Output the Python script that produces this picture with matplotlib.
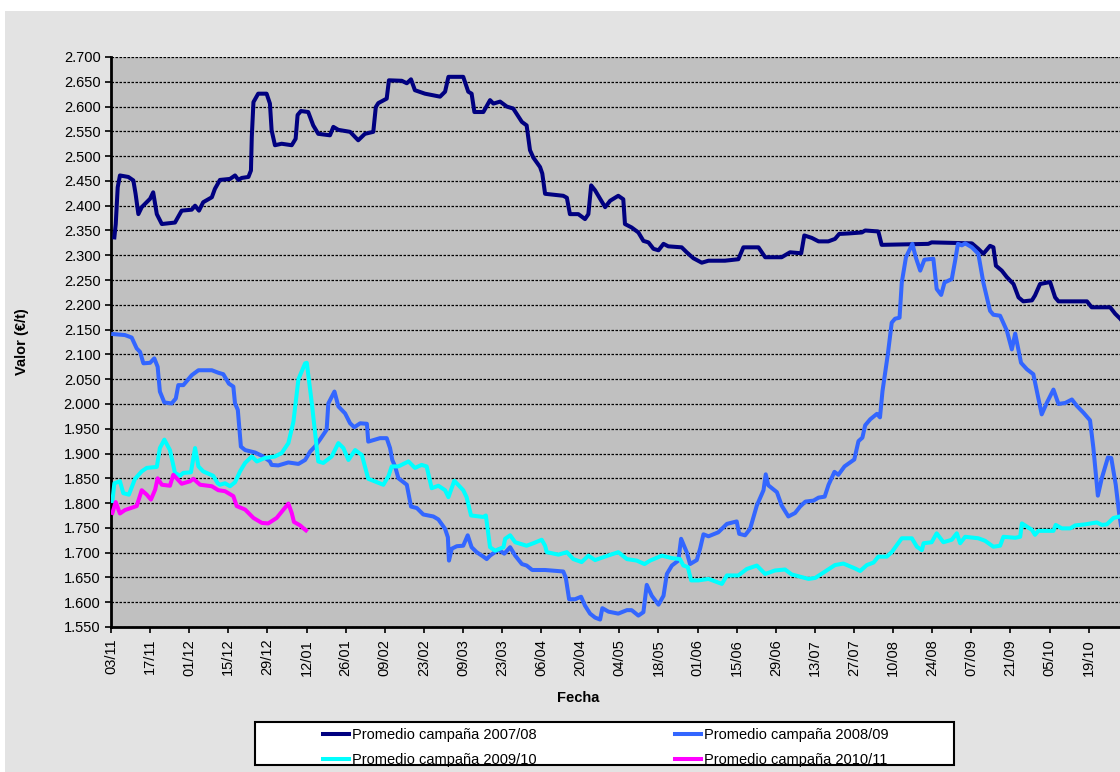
import matplotlib
matplotlib.use("Agg")
import matplotlib.pyplot as plt
from matplotlib.patches import Rectangle
from matplotlib.ticker import FuncFormatter, MultipleLocator

plt.rcParams['font.family'] = ['Liberation Sans', 'DejaVu Sans']

# x = days since 03/11 (start of campaign), y = €/t
tick_labels = ["03/11", "17/11", "01/12", "15/12", "29/12", "12/01", "26/01", "09/02",
               "23/02", "09/03", "23/03", "06/04", "20/04", "04/05", "18/05", "01/06",
               "15/06", "29/06", "13/07", "27/07", "10/08", "24/08", "07/09", "21/09",
               "05/10", "19/10"]

series_names = ["Promedio campaña 2007/08", "Promedio campaña 2008/09",
                "Promedio campaña 2009/10", "Promedio campaña 2010/11"]

days_0708 = [1.2, 1.7, 2.4, 3.2, 6.2, 8.0, 8.8, 9.8, 11.0, 14.0, 15.1, 16.4, 18.2, 22.9, 25.3,
             28.9, 30.1, 31.5, 33.0, 36.1, 37.2, 39.0, 42.6, 44.4, 45.6, 46.8, 49.2, 50.1,
             50.4, 51.0, 52.7, 55.7, 56.9, 57.5, 58.7, 61.1, 64.7, 66.1, 66.8, 68.0, 70.6,
             72.4, 74.2, 78.4, 79.6, 81.4, 85.6, 88.5, 90.9, 93.9, 94.8, 95.7, 98.7, 99.5,
             104.1, 105.9, 107.4, 108.8, 112.4, 117.8, 119.6, 120.8, 126.1, 127.9, 129.1,
             130.1, 133.3, 135.7, 136.9, 139.3, 141.7, 144.0, 147.1, 148.8, 150.0, 151.2,
             153.6, 154.4, 155.4, 161.9, 163.2, 164.3, 167.3, 169.7, 170.9, 171.9, 173.3,
             176.9, 178.7, 181.6, 183.4, 184.0, 186.4, 188.8, 190.6, 192.4, 194.2, 196.0,
             197.8, 199.5, 204.3, 206.1, 208.5, 211.5, 213.9, 219.8, 224.6, 226.4, 231.8,
             234.2, 240.1, 243.1, 247.1, 248.2, 250.9, 253.3, 256.8, 259.2, 260.7, 264.0,
             268.8, 270.0, 274.7, 275.9, 292.6, 293.8, 308.2, 310.5, 312.3, 314.7, 315.9,
             316.8, 318.9, 320.7, 323.1, 324.9, 326.6, 329.7, 330.8, 332.6, 336.2, 338.0,
             339.2, 349.4, 351.1, 357.7, 359.5, 361.3, 363.0]
vals_0708 = [2336, 2363, 2437, 2461, 2458, 2451, 2424, 2383, 2397, 2414, 2427, 2383, 2363, 2366,
             2390, 2392, 2400, 2390, 2407, 2417, 2434, 2452, 2454, 2461, 2452, 2456, 2458,
             2471, 2539, 2609, 2626, 2626, 2606, 2552, 2522, 2525, 2522, 2535, 2583, 2591,
             2589, 2562, 2545, 2542, 2559, 2553, 2549, 2532, 2545, 2549, 2599, 2607, 2616,
             2653, 2652, 2647, 2655, 2633, 2626, 2620, 2630, 2660, 2660, 2630, 2626, 2589,
             2589, 2613, 2606, 2610, 2600, 2596, 2569, 2562, 2512, 2497, 2478, 2465, 2424,
             2420, 2416, 2383, 2383, 2373, 2383, 2441, 2431, 2397, 2410, 2420, 2413, 2363,
             2356, 2346, 2329, 2326, 2313, 2310, 2323, 2318, 2316, 2306, 2294, 2285, 2289,
             2289, 2292, 2316, 2316, 2296, 2296, 2306, 2304, 2340, 2335, 2328, 2328, 2333,
             2343, 2344, 2346, 2350, 2348, 2321, 2323, 2326, 2324, 2313, 2303, 2319, 2316,
             2279, 2269, 2256, 2242, 2215, 2207, 2209, 2219, 2242, 2246, 2215, 2207, 2207,
             2195, 2195, 2182, 2172, 2160]

days_0809 = [0.8, 5.0, 7.4, 9.2, 10.4, 11.6, 14.0, 15.5, 16.7, 17.5, 19.1, 21.7, 23.2, 24.1,
             25.9, 28.9, 31.3, 36.1, 38.4, 40.2, 42.2, 43.8, 44.4, 45.4, 46.5, 48.0, 51.6,
             54.5, 56.9, 57.5, 59.9, 63.5, 67.1, 69.5, 71.3, 73.0, 74.8, 77.2, 77.8, 80.0,
             81.4, 83.8, 85.6, 87.1, 89.2, 91.6, 92.1, 96.3, 98.7, 99.9, 100.7, 101.7, 102.9,
             105.9, 107.4, 109.5, 111.8, 115.4, 117.2, 119.6, 120.6, 121.0, 122.0, 123.8,
             126.1, 127.7, 129.1, 130.9, 133.3, 134.5, 135.7, 138.7, 140.8, 142.9, 144.7,
             147.1, 148.8, 150.8, 155.4, 161.9, 162.8, 164.0, 166.1, 168.3, 169.7, 171.5,
             173.3, 175.1, 175.9, 178.1, 181.6, 184.7, 186.4, 188.8, 190.6, 191.8, 193.6,
             196.0, 197.8, 199.0, 200.8, 203.1, 204.1, 206.1, 207.3, 209.7, 210.9, 212.1,
             213.9, 217.4, 220.5, 224.0, 224.9, 227.0, 228.8, 231.2, 233.6, 234.4, 235.3,
             238.4, 240.1, 242.5, 244.9, 246.7, 248.6, 251.5, 253.3, 255.5, 256.9, 259.0,
             260.4, 262.6, 266.1, 267.6, 269.0, 270.0, 271.8, 274.2, 275.3, 276.2, 278.1,
             279.5, 280.7, 282.3, 283.1, 284.6, 286.9, 288.1, 289.7, 291.2, 294.4, 295.6,
             297.2, 298.4, 301.0, 302.2, 303.2, 304.6, 305.8, 308.2, 310.5, 312.3, 314.7,
             315.9, 318.3, 320.7, 322.5, 323.7, 325.8, 327.9, 330.2, 333.2, 335.0, 337.4,
             339.2, 341.6, 344.0, 345.8, 348.2, 350.5, 351.7, 353.3, 354.7, 356.9, 358.1,
             359.7, 360.9, 362.0]
vals_0809 = [2141, 2139, 2134, 2112, 2105, 2082, 2083, 2092, 2075, 2025, 2003, 2001, 2011, 2038,
             2038, 2058, 2068, 2068, 2063, 2060, 2041, 2035, 2001, 1988, 1914, 1907, 1902,
             1894, 1884, 1877, 1876, 1882, 1879, 1887, 1904, 1914, 1928, 1948, 2001, 2025,
             1995, 1981, 1961, 1953, 1961, 1960, 1924, 1931, 1931, 1911, 1887, 1874, 1850,
             1837, 1793, 1790, 1777, 1773, 1767, 1748, 1731, 1684, 1708, 1713, 1714, 1735,
             1711, 1701, 1692, 1687, 1694, 1706, 1698, 1711, 1694, 1677, 1674, 1665, 1665,
             1662, 1650, 1606, 1606, 1611, 1593, 1577, 1569, 1565, 1588, 1581, 1577, 1584,
             1584, 1573, 1580, 1635, 1613, 1595, 1613, 1657, 1674, 1684, 1728, 1701, 1677,
             1685, 1708, 1737, 1733, 1741, 1758, 1763, 1738, 1735, 1748, 1795, 1826, 1858,
             1836, 1822, 1795, 1773, 1780, 1793, 1803, 1805, 1811, 1813, 1837, 1863, 1857,
             1874, 1888, 1925, 1932, 1957, 1969, 1980, 1973, 2026, 2100, 2164, 2172, 2174,
             2245, 2296, 2323, 2296, 2269, 2291, 2293, 2232, 2220, 2245, 2252, 2289, 2323,
             2320, 2324, 2316, 2303, 2245, 2188, 2180, 2178, 2148, 2110, 2142, 2083, 2070,
             2060, 1979, 2002, 2029, 2000, 2002, 2009, 1996, 1982, 1967, 1911, 1815, 1850,
             1892, 1891, 1837, 1780, 1740]

days_0910 = [0.5, 1.2, 3.2, 4.4, 6.4, 8.6, 11.0, 12.8, 16.4, 17.5, 19.1, 21.1, 22.9, 24.7,
             25.9, 28.6, 30.1, 31.3, 33.0, 36.6, 38.2, 39.0, 40.8, 42.6, 44.4, 46.2, 48.0,
             50.4, 52.2, 55.1, 58.7, 61.1, 63.5, 65.3, 67.1, 69.5, 70.1, 71.9, 74.2, 76.0,
             79.0, 81.4, 83.2, 85.0, 87.4, 89.8, 92.1, 97.5, 99.3, 100.5, 102.9, 106.5,
             108.8, 111.2, 113.0, 114.8, 117.2, 119.6, 120.8, 122.9, 126.1, 127.3, 128.9,
             133.3, 134.2, 135.7, 137.5, 140.5, 141.1, 142.9, 144.7, 148.8, 151.2, 154.2,
             155.4, 156.0, 160.2, 163.2, 165.5, 168.5, 170.9, 173.3, 176.3, 181.6, 184.7,
             188.2, 191.0, 193.0, 197.2, 200.8, 203.7, 204.9, 206.5, 207.7, 210.3, 213.9,
             218.7, 220.5, 224.6, 227.6, 231.2, 234.2, 237.7, 241.3, 243.7, 249.7, 252.1,
             259.2, 262.2, 266.4, 268.2, 270.6, 273.0, 274.7, 277.7, 279.5, 283.1, 286.7,
             288.5, 290.3, 290.9, 293.8, 295.6, 298.0, 301.0, 302.8, 304.0, 305.8, 310.5,
             312.9, 315.9, 318.3, 319.5, 323.7, 325.5, 326.1, 329.7, 330.8, 332.0, 337.4,
             338.2, 340.4, 343.4, 345.2, 348.7, 352.9, 354.7, 356.5, 358.9, 361.3, 363.0]
vals_0910 = [1804, 1840, 1844, 1820, 1817, 1849, 1864, 1871, 1873, 1911, 1928, 1907, 1861, 1855,
             1861, 1862, 1911, 1874, 1864, 1855, 1840, 1837, 1840, 1834, 1842, 1864, 1881,
             1894, 1884, 1891, 1894, 1901, 1921, 1964, 2050, 2082, 2083, 2001, 1884, 1881,
             1894, 1921, 1911, 1887, 1907, 1897, 1849, 1837, 1854, 1874, 1874, 1884, 1871,
             1877, 1874, 1830, 1835, 1826, 1812, 1845, 1826, 1812, 1775, 1772, 1775, 1711,
             1704, 1711, 1728, 1735, 1721, 1714, 1719, 1726, 1714, 1701, 1696, 1701, 1687,
             1681, 1694, 1685, 1691, 1701, 1687, 1684, 1677, 1684, 1694, 1689, 1687, 1674,
             1671, 1644, 1644, 1647, 1637, 1654, 1654, 1667, 1674, 1657, 1664, 1666, 1656,
             1647, 1649, 1675, 1678, 1668, 1663, 1675, 1680, 1692, 1692, 1701, 1729, 1729,
             1712, 1705, 1719, 1721, 1739, 1721, 1726, 1739, 1719, 1732, 1729, 1724, 1712,
             1714, 1732, 1730, 1732, 1759, 1746, 1736, 1744, 1744, 1756, 1749, 1749, 1755,
             1757, 1761, 1756, 1757, 1770, 1773, 1776]

days_1011 = [0.5, 1.7, 3.2, 5.0, 9.2, 11.0, 12.8, 14.3, 15.8, 16.7, 18.2, 21.1, 22.3, 23.5,
             25.3, 28.3, 29.5, 31.9, 36.1, 38.4, 40.8, 43.8, 45.0, 48.0, 51.0, 54.0, 56.3,
             59.3, 63.5, 64.7, 65.5, 67.7, 68.7, 69.8]
vals_1011 = [1780, 1802, 1779, 1786, 1794, 1826, 1817, 1807, 1827, 1850, 1837, 1835, 1857, 1850,
             1839, 1844, 1849, 1837, 1834, 1826, 1824, 1814, 1794, 1787, 1770, 1760, 1759,
             1770, 1799, 1780, 1762, 1755, 1750, 1745]

colors = ["#000080", "#3366FF", "#00FFFF", "#FF00FF"]

W, H = 1120, 772
fig = plt.figure(figsize=(W / 100, H / 100), dpi=100)
fig.patch.set_facecolor("white")
fig.patches.append(Rectangle((5 / W, 0), 1, (H - 11) / H, transform=fig.transFigure,
                             facecolor="#e3e3e3", edgecolor="none", zorder=-10))

ax = fig.add_axes([111 / W, (H - 627) / H, 1012 / W, 570 / H])
ax.set_facecolor("#c0c0c0")

lines = []
for d, v, c, n in zip([days_0708, days_0809, days_0910, days_1011],
                      [vals_0708, vals_0809, vals_0910, vals_1011], colors, series_names):
    ln, = ax.plot(d, v, color=c, lw=2.9, label=n, solid_joinstyle="round", zorder=3)
    lines.append(ln)

ax.set_xlim(0, 362.3)
ax.set_ylim(1550, 2700)
ax.yaxis.set_major_locator(MultipleLocator(50))
ax.yaxis.set_major_formatter(FuncFormatter(lambda v, p: f"{v:,.0f}".replace(",", ".")))
ax.set_xticks([14 * i for i in range(len(tick_labels))])
ax.set_xticklabels(tick_labels, rotation=90)
ax.tick_params(axis="both", labelsize=10.5, direction="out", length=4.5, width=1.2,
               color="black")
ax.tick_params(axis="y", pad=3)
ax.tick_params(axis="x", pad=4)

ax.yaxis.grid(True, color="black", linestyle=(0, (2.0, 1.2)), linewidth=0.9, zorder=1)
ax.set_axisbelow(True)
for s in ["top", "right"]:
    ax.spines[s].set_visible(False)
for s in ["left", "bottom"]:
    ax.spines[s].set_linewidth(2)
    ax.spines[s].set_color("black")

fig.text(22 / W, 1 - 342 / H, "Valor (€/t)", rotation=90, ha="center", va="center",
         fontsize=10.5, fontweight="bold")
fig.text(578 / W, 1 - 698 / H, "Fecha", ha="center", va="center",
         fontsize=10.5, fontweight="bold")

# legend box
fig.patches.append(Rectangle((255 / W, 1 - 765 / H), 699 / W, 43 / H,
                             transform=fig.transFigure, facecolor="white",
                             edgecolor="black", linewidth=1.5, zorder=4))
leg = fig.legend([lines[0], lines[2], lines[1], lines[3]],
                 [series_names[0], series_names[2], series_names[1], series_names[3]],
                 ncol=2, loc="upper left", bbox_to_anchor=(323 / W, 1 - 728 / H),
                 fontsize=10.5, frameon=False,
                 handlelength=1.75, handletextpad=0.25, columnspacing=9.5,
                 labelspacing=0.78, borderpad=0, borderaxespad=0)
leg.set_zorder(5)

fig.savefig("out.png", dpi=100)
